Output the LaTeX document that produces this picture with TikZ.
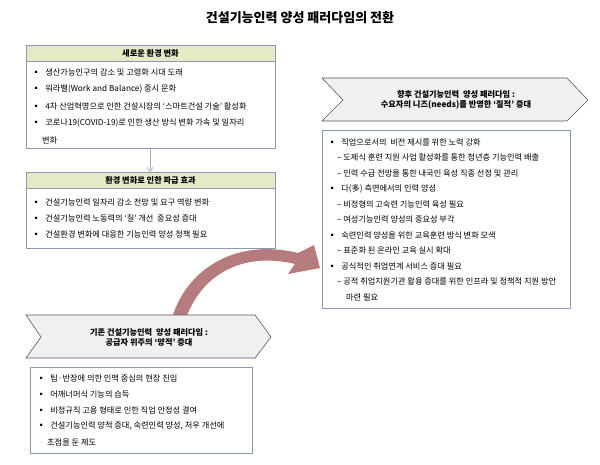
\documentclass[tikz,border=0pt]{standalone}
\usepackage{fontspec}
\setmainfont{Noto Sans CJK KR}
\usetikzlibrary{arrows.meta}
\definecolor{hdr}{HTML}{E4E9C6}
\definecolor{bord}{HTML}{8A9AB5}
\definecolor{rose}{HTML}{B67B7C}
\definecolor{chev}{HTML}{F0F0F0}
\tikzset{
  frame/.style={draw=bord, line width=0.8pt, fill=white},
  hbar/.style={draw=bord, line width=0.8pt, fill=hdr},
  txt/.style={anchor=west, font=\fontsize{8.2}{9}\selectfont, inner sep=0pt},
  htxt/.style={font=\bfseries\fontsize{8.2}{9}\selectfont, inner sep=0pt},
  chevs/.style={draw=gray!70!black, line width=0.6pt, fill=chev},
}
\begin{document}
\begin{tikzpicture}[x=1pt,y=-1pt]
\useasboundingbox (0,0) rectangle (600,465);
\node[font=\bfseries\fontsize{13}{15}\selectfont] (title) at (300,18) {건설기능인력 양성 패러다임의 전환};
% box 1
\draw[frame] (26,45) rectangle (275,148);
\draw[hbar] (26,45) rectangle (275,61);
\node[htxt] (h1) at (150.5,53) {새로운 환경 변화};
\foreach \y/\t in {72/{생산가능인구의 감소 및 고령화 시대 도래},
                   89/{워라밸(Work and Balance) 중시 문화},
                   106/{4차 산업혁명으로 인한 건설시장의 ‘스마트건설 기술’ 활성화},
                   123/{코로나19(COVID-19)로 인한 생산 방식 변화 가속 및 일자리}}
  {\node[txt] at (32,\y) {▪\hspace{5pt}\t};}
\node[txt] at (42,140) {변화};
\coordinate (b1s) at (150,148);
% box 2
\draw[frame] (26,172) rectangle (275,248);
\draw[hbar] (26,172) rectangle (275,188);
\node[htxt] (h2) at (150.5,180) {환경 변화로 인한 파급 효과};
\coordinate (b2n) at (150,172);
\draw[-{Straight Barb[length=4pt,width=6pt]}, draw=bord!80, line width=0.7pt] (b1s) -- (b2n);
\foreach \y/\t in {202/{건설기능인력 일자리 감소 전망 및 요구 역량 변화},
                   218/{건설기능인력 노동력의 ‘질’ 개선\ \ 중요성 증대},
                   234/{건설환경 변화에 대응한 기능인력 양성 정책 필요}}
  {\node[txt] at (32,\y) {▪\hspace{5pt}\t};}
% curved arrow
\fill[rose] (172,318) .. controls (187,268) and (237,238) .. (298,253)
  -- (314,245) -- (320,268) -- (288,274) -- (295,264)
  .. controls (245,252) and (203,272) .. (186,318) -- cycle;
% right chevron
\draw[chevs] (322,78) -- (567,78) -- (588,100) -- (567,121) -- (322,121) -- (343,100) -- cycle;
\node[htxt, align=center] (rc) at (456,100) {향후 건설기능인력\ \ 양성 패러다임 :\\[1pt]수요자의 니즈(needs)를 반영한 ‘질적’ 증대};
% right box
\draw[frame] (322,130) rectangle (570,308);
\foreach \y/\t in {142/{▪\hspace{5pt}직업으로서의\ \ 비전 제시를 위한 노력 강화},
                   157.5/{\hspace{9pt}– 도제식 훈련 지원 사업 활성화를 통한 청년층 기능인력 배출},
                   173/{\hspace{9pt}– 인력 수급 전망을 통한 내국인 육성 직종 선정 및 관리},
                   188.5/{▪\hspace{5pt}다(多) 측면에서의 인력 양성},
                   204/{\hspace{9pt}– 비정형의 고숙련 기능인력 육성 필요},
                   219.5/{\hspace{9pt}– 여성기능인력 양성의 중요성 부각},
                   235/{▪\hspace{5pt}숙련인력 양성을 위한 교육훈련 방식 변화 모색},
                   250.5/{\hspace{9pt}– 표준화 된 온라인 교육 실시 확대},
                   266/{▪\hspace{5pt}공식적인 취업연계 서비스 증대 필요},
                   281.5/{\hspace{9pt}– 공적 취업지원기관 활용 증대를 위한 인프라 및 정책적 지원 방안}}
  {\node[txt] at (328,\y) {\t};}
\node[txt] at (346,297) {마련 필요};
% lower chevron
\draw[chevs] (26,315) -- (255,315) -- (271,337) -- (255,358) -- (26,358) -- (41,337) -- cycle;
\node[htxt, align=center] (lc) at (149,337) {기존 건설기능인력\ \ 양성 패러다임 :\\[1pt]공급자 위주의 ‘양적’ 증대};
% lower box
\draw[frame] (30,367) rectangle (252,453);
\foreach \y/\t in {378/{팀·반장에 의한 인맥 중심의 현장 진입},
                   394/{어깨너머식 기능의 습득},
                   410/{비정규직 고용 형태로 인한 직업 안정성 결여},
                   426/{건설기능인력 양적 증대, 숙련인력 양성, 처우 개선에}}
  {\node[txt] at (37,\y) {▪\hspace{5pt}\t};}
\node[txt] at (47,442) {초점을 둔 제도};
\end{tikzpicture}
\end{document}
